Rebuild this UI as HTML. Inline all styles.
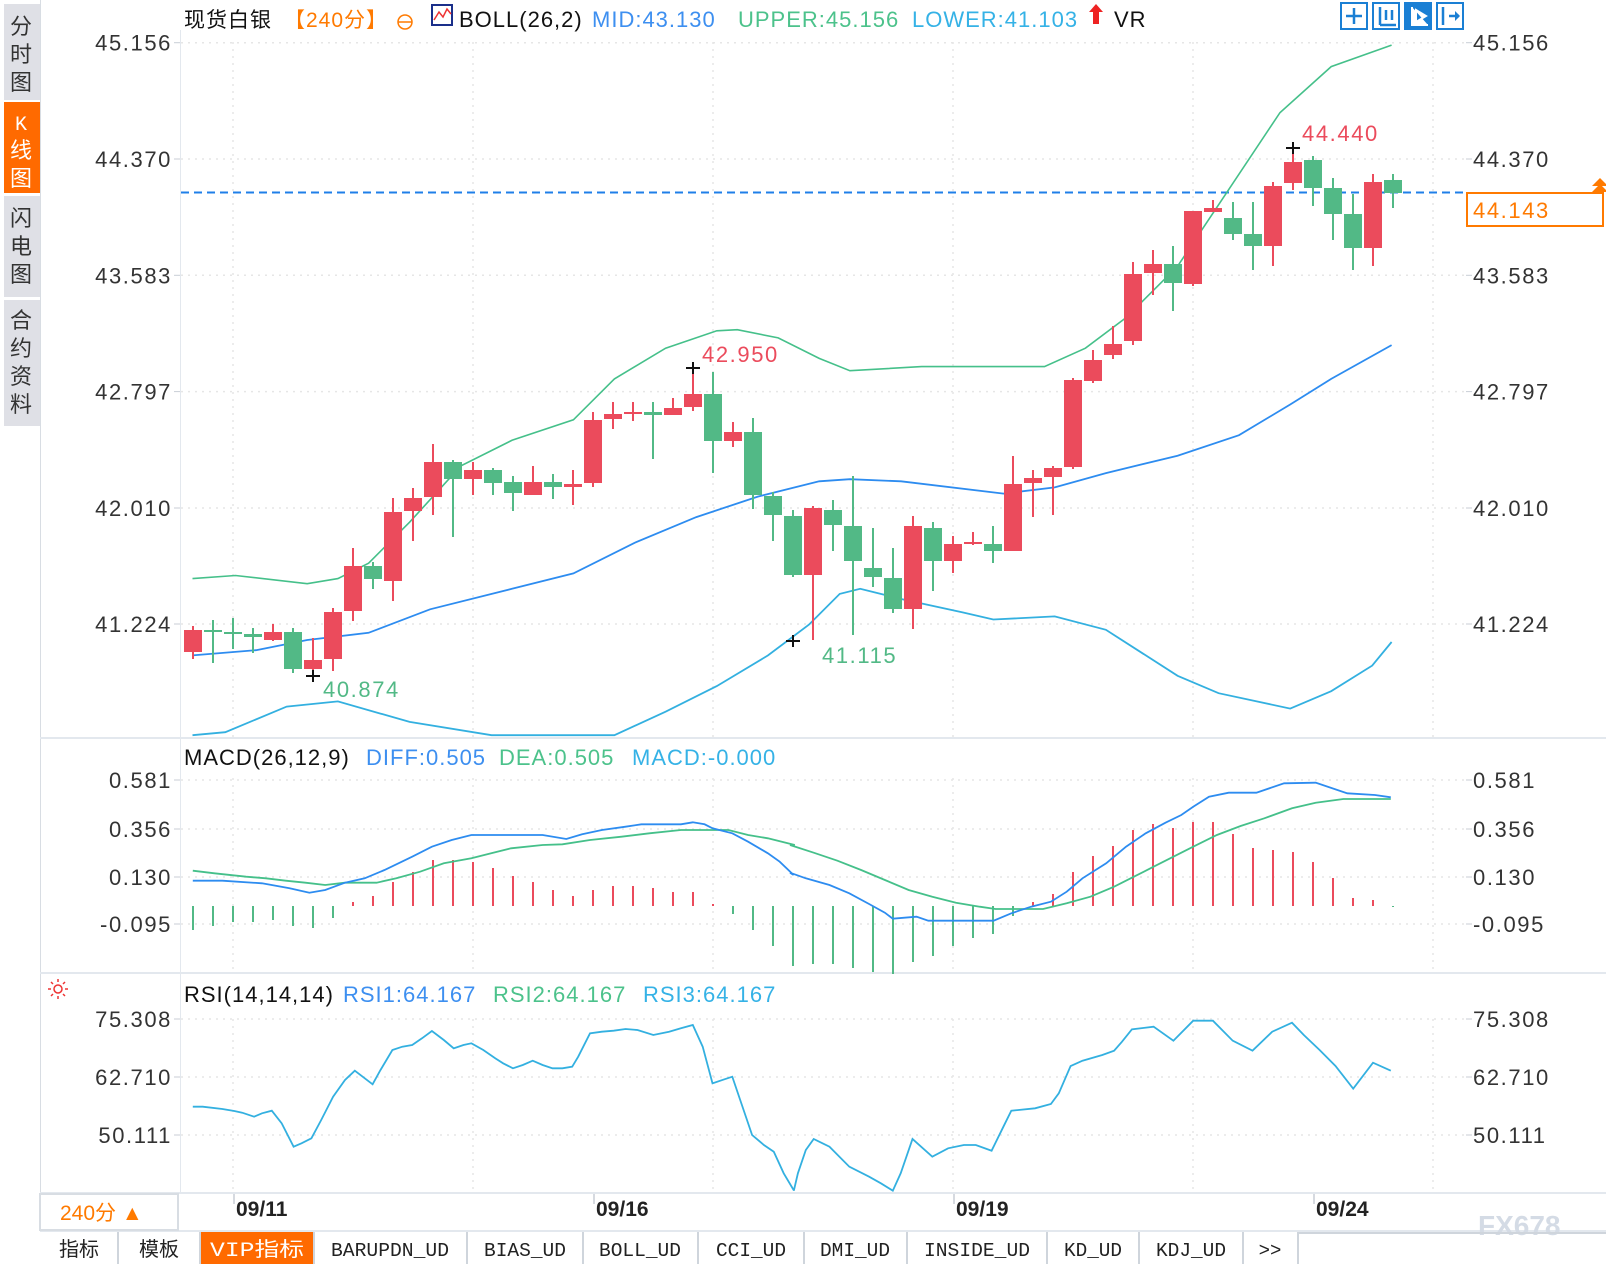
<!DOCTYPE html>
<html><head><meta charset="utf-8">
<style>
body{margin:0;width:1606px;height:1264px;background:#fff;overflow:hidden;font-family:"Liberation Sans","Noto Sans CJK SC",sans-serif;}
svg{position:absolute;left:0;top:0}
.w{letter-spacing:1.6px}
.t{letter-spacing:1px}
</style></head>
<body>
<svg id="s" width="1606" height="1264" viewBox="0 0 1606 1264" xmlns="http://www.w3.org/2000/svg" font-family="Liberation Sans, Noto Sans CJK SC, sans-serif">
<!-- sidebar -->
<rect x="4" y="4" width="36" height="96" fill="#dfe0e6"/>
<rect x="4" y="102" width="36" height="91" fill="#ff6a00"/>
<rect x="4" y="196" width="36" height="101" fill="#dfe0e6"/>
<rect x="4" y="300" width="36" height="126" fill="#dfe0e6"/>
<g font-size="22" fill="#333" text-anchor="middle" font-family="Noto Sans CJK SC, sans-serif">
<text x="21" y="34">分</text><text x="21" y="62">时</text><text x="21" y="90">图</text>
<text x="21" y="130" fill="#fff" font-family="Liberation Mono, monospace" font-size="20">K</text><text x="21" y="158" fill="#fff">线</text><text x="21" y="186" fill="#fff">图</text>
<text x="21" y="226">闪</text><text x="21" y="254">电</text><text x="21" y="282">图</text>
<text x="21" y="328">合</text><text x="21" y="356">约</text><text x="21" y="384">资</text><text x="21" y="412">料</text>
</g>
<line x1="40.5" y1="0" x2="40.5" y2="1232" stroke="#d8dde3"/>
<line x1="180.5" y1="30" x2="180.5" y2="1192" stroke="#e3e8ee"/>
<g stroke="#e3e8ee" stroke-width="2">
<line x1="40" y1="738" x2="1606" y2="738"/>
<line x1="40" y1="973" x2="1606" y2="973"/>
<line x1="40" y1="1193" x2="1606" y2="1193"/>
<line x1="40" y1="1231" x2="1606" y2="1231"/>
</g>
<g id="grid" stroke="#e6e6e6" stroke-dasharray="2,5" stroke-width="1.5"></g>
<g id="plot"></g>
<!-- title -->
<g font-size="22" class="t">
<text x="184" y="27" fill="#111" font-family="Noto Sans CJK SC, sans-serif" font-size="21">现货白银</text>
<text x="284" y="27" fill="#ff7a00" font-family="Liberation Sans, Noto Sans CJK SC, sans-serif" font-size="21">【240分】</text>
<circle cx="405" cy="22" r="7" fill="none" stroke="#ff7a00" stroke-width="1.5"/><line x1="398" y1="22" x2="412" y2="22" stroke="#ff7a00" stroke-width="1.5"/>
<rect x="432" y="5" width="20" height="20" fill="#fff" stroke="#1a2f8a" stroke-width="2"/>
<polyline points="434,20 439,12 443,17 447,9 451,14" fill="none" stroke="#e33" stroke-width="1.5"/>
<text x="459" y="27" fill="#111">BOLL(26,2)</text>
<text x="592" y="27" fill="#3d8ff0">MID:43.130</text>
<text x="738" y="27" fill="#4cc28b">UPPER:45.156</text>
<text x="912" y="27" fill="#35b2e6">LOWER:41.103</text>
<path d="M1096 4 L1103 12 L1099 12 L1099 24 L1093 24 L1093 12 L1089 12 Z" fill="#e22"/>
<text x="1114" y="27" fill="#111">VR</text>
</g>
<g stroke="#1a7fd4" stroke-width="2" fill="#fff">
<rect x="1341" y="3" width="26" height="26"/><rect x="1373" y="3" width="26" height="26"/>
<rect x="1405" y="3" width="26" height="26" fill="#1a7fd4"/><rect x="1437" y="3" width="26" height="26"/>
</g>
<g stroke="#1a7fd4" stroke-width="2.5">
<line x1="1354" y1="8" x2="1354" y2="24"/><line x1="1346" y1="16" x2="1362" y2="16"/>
<line x1="1380" y1="7" x2="1380" y2="25"/><line x1="1380" y1="25" x2="1396" y2="25"/><line x1="1386" y1="10" x2="1386" y2="20"/><line x1="1392" y1="10" x2="1392" y2="20"/>
<line x1="1443" y1="7" x2="1443" y2="25"/><line x1="1449" y1="16" x2="1459" y2="16"/>
</g>
<path d="M1412 7 L1412 25 L1428 25 M1416 10 L1426 16 L1416 22 Z" stroke="#fff" stroke-width="2" fill="#fff"/>
<path d="M1455 11 L1460 16 L1455 21Z" fill="#1a7fd4"/>
<g id="labels" font-size="22" fill="#333" class="w"></g>
<rect x="1467" y="193" width="136" height="33" fill="#fff" stroke="#ff7a00" stroke-width="2"/>
<text x="1473" y="218" font-size="22" fill="#ff7a00" class="w">44.143</text>
<path d="M1592 186 L1600 178 L1608 186 Z M1592 192 L1600 184 L1608 192Z" fill="#ff7a00"/>
<g font-size="22" class="t">
<text x="184" y="765" fill="#111">MACD(26,12,9)</text>
<text x="366" y="765" fill="#3d8ff0">DIFF:0.505</text>
<text x="499" y="765" fill="#4cc28b">DEA:0.505</text>
<text x="632" y="765" fill="#35b2e6">MACD:-0.000</text>
<text x="184" y="1002" fill="#111">RSI(14,14,14)</text>
<text x="343" y="1002" fill="#3d8ff0">RSI1:64.167</text>
<text x="493" y="1002" fill="#4cc28b">RSI2:64.167</text>
<text x="643" y="1002" fill="#35b2e6">RSI3:64.167</text>
</g>
<g stroke="#e33" stroke-width="1.5"><circle cx="58" cy="989" r="4" fill="none"/>
<line x1="58" y1="979" x2="58" y2="982"/><line x1="58" y1="996" x2="58" y2="999"/><line x1="48" y1="989" x2="51" y2="989"/><line x1="65" y1="989" x2="68" y2="989"/>
<line x1="51" y1="982" x2="53" y2="984"/><line x1="63" y1="994" x2="65" y2="996"/><line x1="65" y1="982" x2="63" y2="984"/><line x1="51" y1="996" x2="53" y2="994"/></g>
<g font-size="22" class="w">
<text x="323" y="697" fill="#52b986">40.874</text>
<text x="822" y="663" fill="#52b986">41.115</text>
<text x="702" y="362" fill="#eb4b5c">42.950</text>
<text x="1302" y="141" fill="#eb4b5c">44.440</text>
</g>
<rect x="40" y="1194" width="138" height="36" fill="#fff" stroke="#d8dde3" stroke-width="2"/>
<text x="60" y="1220" font-size="21" fill="#ff7a00" font-family="Liberation Sans, Noto Sans CJK SC, sans-serif">240分 ▲</text>
<g font-size="21" fill="#222" font-weight="bold">
<text x="236" y="1216">09/11</text><text x="596" y="1216">09/16</text><text x="956" y="1216">09/19</text><text x="1316" y="1216">09/24</text>
</g>
<g stroke="#c8ced6" stroke-width="1.5"><line x1="234" y1="1194" x2="234" y2="1204"/><line x1="594" y1="1194" x2="594" y2="1204"/><line x1="954" y1="1194" x2="954" y2="1204"/><line x1="1314" y1="1194" x2="1314" y2="1204"/></g>
<text x="1478" y="1235" font-size="28" fill="#d4dbe5" font-weight="bold">FX678</text>
<rect x="200" y="1232" width="114" height="32" fill="#ff6a00"/>
<g stroke="#cfd5dc" stroke-width="2">
<line x1="118" y1="1232" x2="118" y2="1264"/><line x1="200" y1="1232" x2="200" y2="1264"/><line x1="314" y1="1232" x2="314" y2="1264"/>
<line x1="467" y1="1232" x2="467" y2="1264"/><line x1="583" y1="1232" x2="583" y2="1264"/><line x1="698" y1="1232" x2="698" y2="1264"/>
<line x1="804" y1="1232" x2="804" y2="1264"/><line x1="907" y1="1232" x2="907" y2="1264"/><line x1="1047" y1="1232" x2="1047" y2="1264"/>
<line x1="1139" y1="1232" x2="1139" y2="1264"/><line x1="1243" y1="1232" x2="1243" y2="1264"/><line x1="1298" y1="1232" x2="1298" y2="1264"/>
<line x1="1298" y1="1233" x2="1606" y2="1233"/>
</g>
<g font-size="20" fill="#222" font-family="Noto Sans CJK SC, sans-serif" text-anchor="middle">
<text x="79" y="1256">指标</text><text x="159" y="1256">模板</text>
<text x="257" y="1256" fill="#fff" font-family="Liberation Mono, Noto Sans CJK SC, monospace" textLength="94" lengthAdjust="spacingAndGlyphs">VIP指标</text>
</g>
<g font-size="19" fill="#222" font-family="Liberation Mono, monospace" text-anchor="middle">
<text x="390" y="1256" textLength="118" lengthAdjust="spacingAndGlyphs">BARUPDN_UD</text>
<text x="525" y="1256" textLength="82" lengthAdjust="spacingAndGlyphs">BIAS_UD</text>
<text x="640" y="1256" textLength="82" lengthAdjust="spacingAndGlyphs">BOLL_UD</text>
<text x="751" y="1256" textLength="70" lengthAdjust="spacingAndGlyphs">CCI_UD</text>
<text x="855" y="1256" textLength="70" lengthAdjust="spacingAndGlyphs">DMI_UD</text>
<text x="977" y="1256" textLength="106" lengthAdjust="spacingAndGlyphs">INSIDE_UD</text>
<text x="1093" y="1256" textLength="58" lengthAdjust="spacingAndGlyphs">KD_UD</text>
<text x="1191" y="1256" textLength="70" lengthAdjust="spacingAndGlyphs">KDJ_UD</text>
<text x="1270" y="1256">&gt;&gt;</text>
</g>
</svg>
<script>
var NS="http://www.w3.org/2000/svg";
function el(p,t,a){var e=document.createElementNS(NS,t);for(var k in a)e.setAttribute(k,a[k]);p.appendChild(e);return e;}
var plot=document.getElementById("plot"),grid=document.getElementById("grid"),lab=document.getElementById("labels");
var hg=[42.7,159,275.3,391.6,508,624,780,829,877,924,1019,1077,1135];
hg.forEach(function(y){el(grid,"line",{x1:181,y1:y,x2:1465,y2:y});});
[233,473,713,953,1193,1433].forEach(function(x){
 el(grid,"line",{x1:x,y1:42,x2:x,y2:737});el(grid,"line",{x1:x,y1:778,x2:x,y2:972});el(grid,"line",{x1:x,y1:1019,x2:x,y2:1192});});
var L=[["45.156",42.7],["44.370",159],["43.583",275.3],["42.797",391.6],["42.010",508],["41.224",624],
["0.581",780],["0.356",829],["0.130",877],["-0.095",924],["75.308",1019],["62.710",1077],["50.111",1135]];
L.forEach(function(l){
 var t=el(lab,"text",{x:172,y:l[1]+8,"text-anchor":"end"});t.textContent=l[0];
 var t2=el(lab,"text",{x:1473,y:l[1]+8});t2.textContent=l[0];
 el(lab,"line",{x1:174,y1:l[1],x2:180,y2:l[1],stroke:"#c8ced6"});
 el(lab,"line",{x1:1466,y1:l[1],x2:1472,y2:l[1],stroke:"#c8ced6"});
});
el(plot,"line",{x1:181,y1:192.5,x2:1466,y2:192.5,stroke:"#1f7fe8","stroke-width":2,"stroke-dasharray":"8,5"});
var R="#eb4b5c",G="#52b986";
function pts(a,f){return a.map(function(p){var q=f(p);return q[0].toFixed(1)+","+q[1].toFixed(1);}).join(" ");}
var sc=function(p){return [p[0]*1.024,p[1]*1.024];};
var up=[[188,565],[230,562],[300,570],[330,565],[360,550],[400,510],[450,455],[500,430],[560,410],[600,370],[650,340],[700,323],[720,322],[760,330],[800,350],[830,362],[900,358],[1020,358],[1060,340],[1100,310],[1150,260],[1200,185],[1250,110],[1300,65],[1359,44]];
var mid=[[188,640],[250,635],[300,625],[360,618],[420,595],[500,575],[560,560],[620,530],[680,505],[740,485],[800,470],[830,468],[880,470],[980,482],[1030,476],[1080,462],[1150,445],[1210,425],[1260,395],[1300,370],[1359,337]];
var lo=[[188,718],[220,715],[280,690],[330,685],[400,705],[480,718],[600,718],[650,695],[700,670],[750,640],[790,610],[820,580],[840,575],[880,585],[940,598],[970,605],[1030,602],[1080,615],[1150,660],[1190,677],[1260,692],[1300,675],[1340,650],[1359,627]];
el(plot,"polyline",{points:pts(up,sc),fill:"none",stroke:"#45c08a","stroke-width":1.6});
el(plot,"polyline",{points:pts(mid,sc),fill:"none",stroke:"#2d8cf0","stroke-width":1.8});
el(plot,"polyline",{points:pts(lo,sc),fill:"none",stroke:"#33b0e0","stroke-width":1.8});
var C=[["r",630,652,626,659],["g",630,631,620,663],["g",632,633,618,649],["g",634,637,628,653],["r",632,640,624,641],["g",632,669,628,673],["r",660,669,638,673],["r",612,659,608,671],["r",566,611,548,621],["g",566,579,562,589],["r",512,581,498,601],["r",498,511,488,541],["r",462,497,444,515],["g",462,479,460,537],["r",470,479,462,495],["g",470,483,468,495],["g",482,493,476,511],["r",482,495,466,495],["g",482,487,474,499],["r",484,487,470,505],["r",420,483,412,487],["r",414,419,402,429],["r",412,413,402,421],["g",412,415,402,459],["r",408,415,398,415],["r",394,407,368,411],["g",394,441,372,473],["r",432,441,422,447],["g",432,495,418,509],["g",496,515,492,541],["g",516,575,510,577],["r",508,575,506,640],["g",510,525,500,551],["g",526,561,476,635],["g",568,577,528,587],["g",578,609,548,613],["r",526,609,516,629],["g",528,561,522,591],["r",544,561,536,573],["r",542,543,532,545],["g",544,551,526,563],["r",484,551,456,551],["r",478,483,470,517],["r",468,477,466,515],["r",380,467,378,469],["r",360,381,350,383],["r",344,355,326,359],["r",274,341,262,345],["r",264,273,250,295],["g",264,283,246,311],["r",211,284,211,286],["r",208,212,200,212],["g",218,234,202,240],["g",234,246,202,270],["r",186,246,182,266],["r",162,183,148,190],["g",160,188,156,206],["g",188,214,178,240],["g",214,248,194,270],["r",182,248,174,266],["g",180,193,174,208]];
C.forEach(function(c,i){var x=193+20*i,col=c[0]=="r"?R:G;
 el(plot,"rect",{x:x-1,y:c[3],width:2,height:c[4]-c[3],fill:col});
 el(plot,"rect",{x:x-9,y:c[1],width:18,height:Math.max(2,c[2]-c[1]),fill:col});});
[[313,676],[793,641],[693,368],[1293,148]].forEach(function(m){
 el(plot,"line",{x1:m[0]-7,y1:m[1],x2:m[0]+7,y2:m[1],stroke:"#111","stroke-width":2});
 el(plot,"line",{x1:m[0],y1:m[1]-6,x2:m[0],y2:m[1]+6,stroke:"#111","stroke-width":2});});
var H=[930,926,922,922,920,926,928,918,902,896,882,872,860,860,862,868,876,882,890,896,890,886,886,888,892,892,904,914,930,946,966,964,964,968,972,974,962,956,946,938,934,916,902,894,872,856,846,830,824,828,822,822,834,848,850,852,862,878,898,900,907];
H.forEach(function(t,i){var x=193+20*i,z=906;var col=t<z?R:G;
 el(plot,"rect",{x:x-1,y:Math.min(t,z),width:2,height:Math.max(1,Math.abs(t-z)),fill:col});});
var m7=function(p){return [175+p[0]/2.53,740+p[1]/3];},m8=function(p){return [790+p[0]/2.53,740+p[1]/3];};
var dif7=[[45,422],[120,422],[220,430],[290,445],[340,458],[380,450],[430,428],[480,415],[530,390],[600,350],[650,320],[700,300],[750,285],[930,285],[990,297],[1030,283],[1080,270],[1140,260],[1180,253],[1280,253],[1310,247],[1340,253],[1360,265],[1410,280],[1450,305],[1500,340],[1530,365],[1565,405]];
var dif8=[[0,398],[40,415],[100,435],[150,460],[200,492],[240,518],[260,536],[320,530],[350,542],[515,542],[560,520],[610,500],[660,485],[700,455],[740,415],[800,370],[850,320],[900,280],[950,248],[990,225],[1020,200],[1060,170],[1110,158],[1180,158],[1250,130],[1330,128],[1410,160],[1480,165],[1520,172]];
var dea7=[[45,392],[100,400],[180,410],[230,415],[280,422],[330,428],[380,435],[430,428],[510,428],[560,415],[620,395],[680,370],[750,355],[800,340],[850,325],[930,315],[980,313],[1050,300],[1130,290],[1200,280],[1280,270],[1400,270],[1450,285],[1500,295],[1568,315]];
var dea8=[[0,315],[60,338],[120,362],[180,390],[240,420],[300,450],[360,470],[420,488],[480,500],[520,507],[640,507],[700,490],[760,470],[820,440],[870,410],[920,380],[970,350],[1020,320],[1080,285],[1140,258],[1200,235],[1270,205],[1330,188],[1400,177],[1520,177]];
el(plot,"polyline",{points:pts(dea7,m7)+" "+pts(dea8,m8),fill:"none",stroke:"#45c08a","stroke-width":1.8});
el(plot,"polyline",{points:pts(dif7,m7)+" "+pts(dif8,m8),fill:"none",stroke:"#2d8cf0","stroke-width":1.8});
var r9=function(p){return [175+p[0]/2.53,980+p[1]/3];},r10=function(p){return [790+p[0]/2.53,980+p[1]/3];};
var rs9=[[45,380],[70,380],[120,387],[150,393],[170,398],[200,410],[220,400],[245,392],[270,430],[300,500],[320,490],[345,475],[370,420],[400,350],[430,300],[455,272],[500,313],[520,270],[550,210],[575,200],[600,195],[625,175],[650,153],[680,180],[705,205],[730,195],[750,190],[780,210],[810,235],[830,250],[855,265],[880,255],[905,242],[930,255],[955,265],[980,265],[1005,260],[1020,230],[1050,160],[1080,155],[1110,152],[1140,147],[1170,150],[1210,165],[1250,155],[1280,145],[1310,135],[1335,200],[1360,310],[1390,298],[1410,290],[1430,360],[1460,465],[1490,495],[1515,515],[1540,580],[1565,630]];
var rs10=[[10,630],[20,580],[40,510],[60,477],[100,500],[150,560],[200,590],[230,610],[260,632],[280,580],[310,477],[360,530],[400,505],[440,495],[470,495],[510,512],[540,440],[560,392],[620,385],[660,372],[680,340],[710,258],[740,242],[790,225],[820,212],[840,185],[865,148],[920,140],[970,182],[1020,122],[1070,122],[1120,182],[1170,212],[1220,155],[1270,128],[1300,165],[1340,210],[1380,258],[1425,326],[1475,248],[1520,272]];
el(plot,"polyline",{points:pts(rs9,r9)+" "+pts(rs10,r10),fill:"none",stroke:"#33b0e0","stroke-width":1.8});
</script>
</body></html>
